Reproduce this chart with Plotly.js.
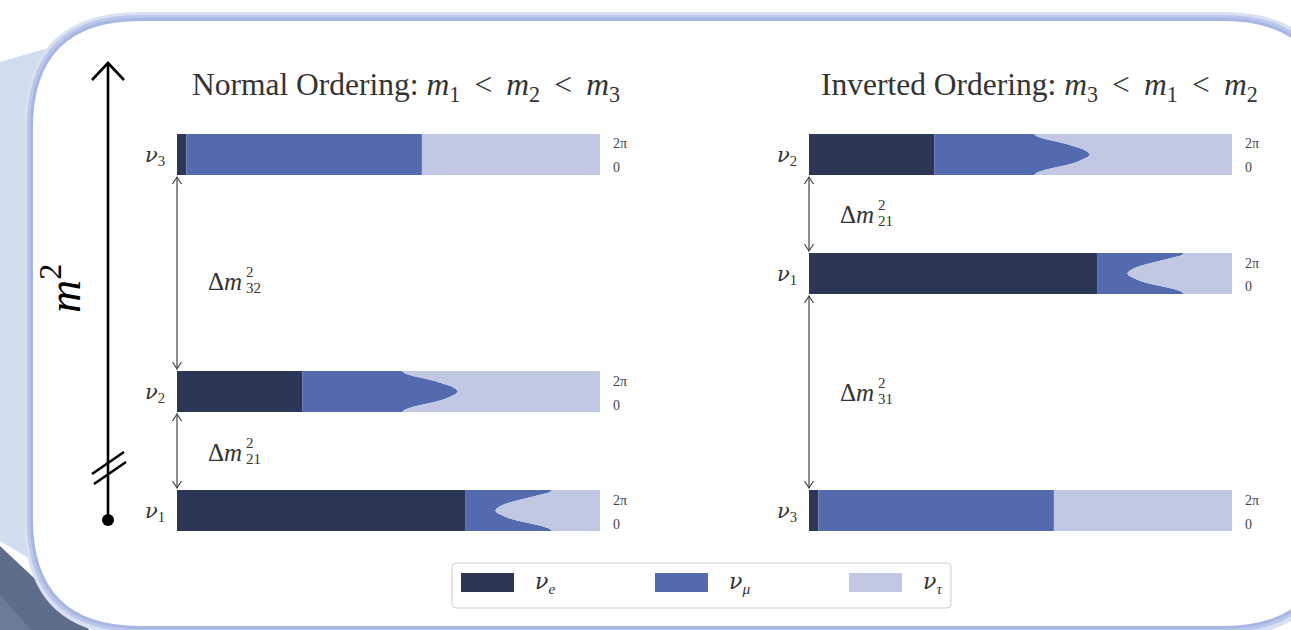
<!DOCTYPE html>
<html><head><meta charset="utf-8">
<script src="https://cdn.plot.ly/plotly-3.0.1.min.js"></script>
<style>html,body{margin:0;padding:0;background:#fff;}#chart{width:1291px;height:630px;}</style>
</head><body><div id="chart"></div>
<script>
// ---- data ----
const NU = '<span style="font-family:DejaVu Serif">ν</span>';
const flavours = ['ν_e', 'ν_μ', 'ν_τ'];
const flavourLabels = ['<i>' + NU + '<sub>e</sub></i>', '<i>' + NU + '<sub>μ</sub></i>', '<i>' + NU + '<sub>τ</sub></i>'];
const flavourColors = ['#2c3657', '#536aaf', '#c0c8e3'];
const deltaGrid = [0, 0.39, 0.79, 1.18, 1.57, 1.96, 2.36, 2.75, 3.14, 3.53, 3.93, 4.32, 4.71, 5.11, 5.50, 5.89, 6.28];
const deltaEnds = [0, 6.28];
// electron fraction |U_ei|^2 and cumulative e+mu fraction versus delta_CP
const nu1_e = 0.681;
const nu1_emu = [0.887, 0.880, 0.860, 0.830, 0.806, 0.784, 0.768, 0.757, 0.752, 0.757, 0.768, 0.784, 0.806, 0.830, 0.860, 0.880, 0.887];
const nu2_e = 0.296;
const nu2_emu = [0.532, 0.539, 0.558, 0.587, 0.611, 0.632, 0.648, 0.659, 0.664, 0.659, 0.648, 0.632, 0.611, 0.587, 0.558, 0.539, 0.532];
const nu3_e = 0.022;
const nu3_emu = [0.579, 0.579];
const TS = '\u2009';
const orderingTitles = ['Normal Ordering: <i>m</i><sub>1</sub> ' + TS + '&lt;' + TS + ' <i>m</i><sub>2</sub> ' + TS + '&lt;' + TS + ' <i>m</i><sub>3</sub>',
                        'Inverted Ordering: <i>m</i><sub>3</sub> ' + TS + '&lt;' + TS + ' <i>m</i><sub>1</sub> ' + TS + '&lt;' + TS + ' <i>m</i><sub>2</sub>'];
const stateNames = ['<i>' + NU + '</i><sub>1</sub>', '<i>' + NU + '</i><sub>2</sub>', '<i>' + NU + '</i><sub>3</sub>'];
const tickLabels = ['2π', '0'];

// ---- layout helpers (pixel -> paper) ----
const W = 1291, H = 630;
const X = p => p / W, Y = p => 1 - p / H;
const FONT = 'Liberation Serif';
const TXT = '#333333';

const states = {
  1: {e: nu1_e, emu: nu1_emu, d: deltaGrid},
  2: {e: nu2_e, emu: nu2_emu, d: deltaGrid},
  3: {e: nu3_e, emu: nu3_emu, d: deltaEnds}
};
const panels = [
  {col: 0, st: 3, top: 134}, {col: 0, st: 2, top: 371}, {col: 0, st: 1, top: 490},
  {col: 1, st: 2, top: 134}, {col: 1, st: 1, top: 253}, {col: 1, st: 3, top: 490}
];
const colLeft = [177, 809], barW = 423, barH = 41;

const traces = [];
const layout = {
  width: W, height: H, margin: {l: 0, r: 0, t: 0, b: 0},
  paper_bgcolor: '#ffffff', plot_bgcolor: 'rgba(0,0,0,0)',
  showlegend: false, hovermode: false,
  shapes: [], annotations: []
};
const ann = (x, y, text, size, opts) => layout.annotations.push(Object.assign({xref: 'paper', yref: 'paper', x: X(x), y: Y(y),
  xanchor: 'left', yanchor: 'middle', text: text, showarrow: false, font: {family: FONT, size: size, color: TXT}}, opts || {}));

panels.forEach((p, i) => {
  const k = i + 1;
  const sfx = k === 1 ? '' : String(k);
  const xa = 'x' + sfx, ya = 'y' + sfx;
  const xl = colLeft[p.col];
  layout['xaxis' + sfx] = {domain: [X(xl), X(xl + barW)], range: [0, 1], visible: false, fixedrange: true, anchor: ya};
  layout['yaxis' + sfx] = {domain: [Y(p.top + barH), Y(p.top)], range: [0, 6.28], visible: false, fixedrange: true, anchor: xa};
  const s = states[p.st];
  traces.push({x: s.d.map(() => s.e), y: s.d, xaxis: xa, yaxis: ya, mode: 'lines', line: {width: 0}, fill: 'tozerox', fillcolor: flavourColors[0], name: flavours[0]});
  traces.push({x: s.emu, y: s.d, xaxis: xa, yaxis: ya, mode: 'lines', line: {width: 0}, fill: 'tonextx', fillcolor: flavourColors[1], name: flavours[1]});
  traces.push({x: s.d.map(() => 1), y: s.d, xaxis: xa, yaxis: ya, mode: 'lines', line: {width: 0}, fill: 'tonextx', fillcolor: flavourColors[2], name: flavours[2]});
  ann(xl - 10, p.top + barH / 2 + 1, stateNames[p.st - 1], 21, {xanchor: 'right'});
  ann(xl + barW + 11, p.top + 10, tickLabels[0], 14, {font: {family: FONT, size: 14, color: '#444'}});
  ann(xl + barW + 11, p.top + 34, tickLabels[1], 14, {font: {family: FONT, size: 14, color: '#444'}});
});

// ---- background decoration ----
function P(pts) { return 'M' + pts.map(q => X(q[0]) + ',' + Y(q[1])).join(' L') + ' Z'; }
function roundRect(x0, y0, x1, y1, r) {
  const a = (x, y) => X(x) + ',' + Y(y);
  return 'M' + a(x0 + r, y0) + ' L' + a(x1 - r, y0) + ' Q' + a(x1, y0) + ' ' + a(x1, y0 + r) +
    ' L' + a(x1, y1 - r) + ' Q' + a(x1, y1) + ' ' + a(x1 - r, y1) +
    ' L' + a(x0 + r, y1) + ' Q' + a(x0, y1) + ' ' + a(x0, y1 - r) +
    ' L' + a(x0, y0 + r) + ' Q' + a(x0, y0) + ' ' + a(x0 + r, y0) + ' Z';
}
const bg = (path, color) => layout.shapes.push({type: 'path', xref: 'paper', yref: 'paper', path: path, fillcolor: color, line: {width: 0}, layer: 'below'});
bg(P([[0, 62], [110, 30], [110, 600], [60, 577], [0, 541]]), '#d0ddee');
bg(P([[0, 546], [100, 640], [0, 640]]), '#5d6d8b');
bg(P([[0, 595], [40, 640], [0, 640]]), '#6d7c96');
bg(roundRect(24, 12, 1339, 636, 116), '#d9e0f2');
bg(roundRect(27, 15, 1336, 632, 113), '#bac6ea');
bg(roundRect(30, 18, 1333, 629, 110), '#a8b7e2');
bg(roundRect(33, 21, 1330, 626, 107), '#ffffff');

// ---- m^2 axis ----
const line = (x0, y0, x1, y1, color, w) => layout.shapes.push({type: 'line', xref: 'paper', yref: 'paper', x0: X(x0), y0: Y(y0), x1: X(x1), y1: Y(y1), line: {color: color, width: w}});
const poly = (pts, color, w) => layout.shapes.push({type: 'path', xref: 'paper', yref: 'paper', path: 'M' + pts.map(q => X(q[0]) + ',' + Y(q[1])).join(' L'), line: {color: color, width: w}});
line(108, 63, 108, 520, '#000', 2.6);
poly([[92, 80], [108, 63], [124, 80]], '#000', 2.6);
line(92, 474, 124, 452, '#000', 2.6);
line(94, 484, 126, 462, '#000', 2.6);
layout.shapes.push({type: 'circle', xref: 'paper', yref: 'paper', x0: X(102), x1: X(114), y0: Y(514), y1: Y(526), fillcolor: '#000', line: {width: 0}});
ann(61, 289, '<i>m</i><sup>2</sup>', 46, {textangle: -90, xanchor: 'center', font: {family: FONT, size: 46, color: '#000'}});

// ---- double arrows with Δm² labels ----
const gaps = [
  {x: 177, y0: 177, y1: 369, yc: 281, lab: '32'},
  {x: 177, y0: 414, y1: 488, yc: 452, lab: '21'},
  {x: 809, y0: 177, y1: 251, yc: 214, lab: '21'},
  {x: 809, y0: 296, y1: 488, yc: 392, lab: '31'}
];
gaps.forEach(g => {
  const c = '#444444';
  line(g.x, g.y0, g.x, g.y1, c, 1.2);
  poly([[g.x - 4.5, g.y0 + 7], [g.x, g.y0], [g.x + 4.5, g.y0 + 7]], c, 1.2);
  poly([[g.x - 4.5, g.y1 - 7], [g.x, g.y1], [g.x + 4.5, g.y1 - 7]], c, 1.2);
  ann(g.x + 29, g.yc, 'Δ<i>m</i>', 25);
  ann(g.x + 67, g.yc - 9, '2', 15);
  ann(g.x + 67, g.yc + 7, g.lab, 15);
});

// ---- titles ----
ann(406, 87, orderingTitles[0], 31.5, {xanchor: 'center'});
ann(1039, 87, orderingTitles[1], 31.5, {xanchor: 'center'});

// ---- legend ----
layout.shapes.push({type: 'path', xref: 'paper', yref: 'paper', path: roundRect(452, 563, 951, 608, 4), fillcolor: '#ffffff', line: {color: '#cccccc', width: 1}});
const swX = [461, 655, 849], labX = [533, 727, 921];
flavours.forEach((f, i) => {
  layout.shapes.push({type: 'rect', xref: 'paper', yref: 'paper', x0: X(swX[i]), x1: X(swX[i] + 53), y0: Y(592), y1: Y(573), fillcolor: flavourColors[i], line: {width: 0}});
  ann(labX[i], 583, flavourLabels[i], 22);
});

Plotly.newPlot('chart', traces, layout, {staticPlot: true, displayModeBar: false});
</script></body></html>
